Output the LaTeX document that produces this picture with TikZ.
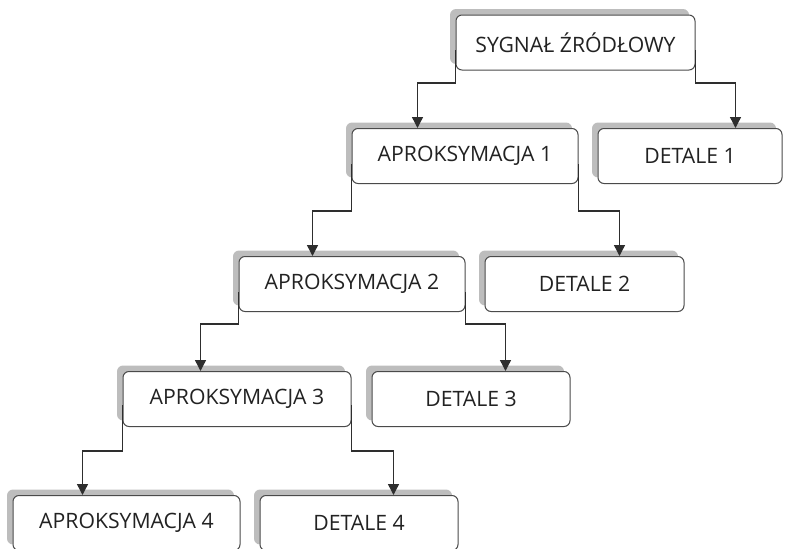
\documentclass[tikz,border=0pt]{standalone}
\usepackage{fontspec}
\setmainfont{Open Sans}
\usetikzlibrary{arrows.meta,calc,shadows}
\definecolor{boxline}{HTML}{4A4A4A}
\definecolor{shade}{HTML}{BDBDBD}
\definecolor{txt}{HTML}{222222}
\definecolor{conncol}{HTML}{2E2E2E}
\tikzset{
  box/.style={draw=boxline, line width=1pt, fill=white, rounded corners=6pt,
    minimum height=55pt, inner sep=0pt, text=txt,
    font=\fontsize{21.2}{24}\selectfont,
    general shadow={shadow xshift=-6pt, shadow yshift=6pt, fill=shade, opacity=1}},
  conn/.style={draw=conncol, line width=1.4pt, -{Triangle[width=11pt,length=11pt]}}
}
\begin{document}
\begin{tikzpicture}[x=1pt,y=-1pt]
\useasboundingbox (0,0) rectangle (788,549);
\node[box, minimum width=239pt] (S) at (575.5,42.5) {SYGNAŁ ŹRÓDŁOWY};
\node[box, minimum width=226pt] (A1) at (465,156) {APROKSYMACJA 1};
\node[box, minimum width=184pt] (D1) at (690,156) {DETALE 1};
\node[box, minimum width=226pt] (A2) at (352,284) {APROKSYMACJA 2};
\node[box, minimum width=199pt] (D2) at (584.5,284) {DETALE 2};
\node[box, minimum width=228pt] (A3) at (237,399) {APROKSYMACJA 3};
\node[box, minimum width=198pt] (D3) at (471,399) {DETALE 3};
\node[box, minimum width=227pt] (A4) at (126.5,523) {APROKSYMACJA 4};
\node[box, minimum width=198pt] (D4) at (359,523) {DETALE 4};

\draw[conn] (S.west |- 0,50) -- (S.west |- 0,83) -| ($(A1.north west)+(66,0)$);
\draw[conn] (S.east |- 0,50) -- (S.east |- 0,83) -| ($(D1.north west)+(138,0)$);
\draw[conn] (A1.west |- 0,164) -- (A1.west |- 0,211) -| ($(A2.north west)+(74,0)$);
\draw[conn] (A1.east |- 0,164) -- (A1.east |- 0,211) -| ($(D2.north west)+(135,0)$);
\draw[conn] (A2.west |- 0,292) -- (A2.west |- 0,324) -| ($(A3.north west)+(78,0)$);
\draw[conn] (A2.east |- 0,292) -- (A2.east |- 0,324) -| ($(D3.north west)+(134,0)$);
\draw[conn] (A3.west |- 0,405) -- (A3.west |- 0,451) -| ($(A4.north west)+(70,0)$);
\draw[conn] (A3.east |- 0,405) -- (A3.east |- 0,451) -| ($(D4.north west)+(134,0)$);
\end{tikzpicture}
\end{document}
